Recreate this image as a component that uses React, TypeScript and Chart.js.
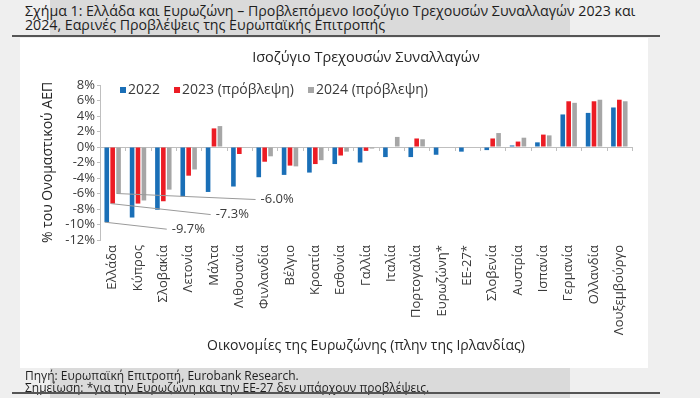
import React, { useEffect, useRef } from "react";
import { Chart, registerables } from "chart.js";

Chart.register(...registerables);

const chartTitle = "Ισοζύγιο Τρεχουσών Συναλλαγών";
const categories = [
  "Ελλάδα", "Κύπρος", "Σλοβακία", "Λετονία", "Μάλτα", "Λιθουανία", "Φινλανδία",
  "Βέλγιο", "Κροατία", "Εσθονία", "Γαλλία", "Ιταλία", "Πορτογαλία", "Ευρωζώνη*",
  "ΕΕ-27*", "Σλοβενία", "Αυστρία", "Ισπανία", "Γερμανία", "Ολλανδία", "Λουξεμβούργο",
];
const seriesLabels = ["2022", "2023 (πρόβλεψη)", "2024 (πρόβλεψη)"];
const values2022 = [-9.7, -9.1, -8.1, -6.4, -5.8, -5.1, -3.9, -3.6, -3.3, -2.2, -2.0, -1.3, -1.3, -1.0, -0.6, -0.4, 0.2, 0.6, 4.2, 4.4, 5.1];
const values2023 = [-7.3, -7.3, -7.0, -3.7, 2.4, -0.9, -1.9, -2.4, -2.2, -1.1, -0.5, 0.0, 1.1, null, null, 1.1, 0.7, 1.6, 5.9, 5.9, 6.1];
const values2024 = [-6.0, -6.9, -5.5, -2.9, 2.7, 0.0, -1.2, -2.5, -1.7, -0.6, -0.2, 1.3, 1.0, null, null, 1.8, 1.2, 1.5, 5.7, 6.1, 5.9];
const yTicks = [8, 6, 4, 2, 0, -2, -4, -6, -8, -10, -12];
const annotatedCategory = 0; // Ελλάδα: value labels for each series

const FONT = "'Open Sans', 'Noto Sans', sans-serif";
const COLORS = ["#1a6fb7", "#ec1c24", "#a6a6a6"];
const TEXT = "#3a3a3a";

const overlayPlugin = {
  id: "overlay",
  afterDatasetsDraw(chart: any) {
    const { ctx, chartArea, scales } = chart;
    const x = scales.x;
    const y = scales.y;
    const y0 = y.getPixelForValue(0);
    ctx.save();
    // chart title centred over the plot area
    ctx.font = `14.5px ${FONT}`;
    ctx.fillStyle = "#262626";
    ctx.textAlign = "center";
    ctx.textBaseline = "middle";
    ctx.fillText(chartTitle, (chartArea.left + chartArea.right) / 2, 18);
    // category boundary ticks on the zero line
    ctx.strokeStyle = "#bfbfbf";
    ctx.lineWidth = 1;
    for (let i = 0; i <= categories.length; i++) {
      const px = Math.round(x.getPixelForValue(i - 0.5)) + 0.5;
      ctx.beginPath();
      ctx.moveTo(px, y0);
      ctx.lineTo(px, y0 + 4);
      ctx.stroke();
    }
    // leader-line annotations for Greece
    const offsets = [
      { dx: 65, dy: 7 },
      { dx: 103, dy: 11 },
      { dx: 142, dy: 6 },
    ];
    ctx.font = `13px ${FONT}`;
    ctx.textAlign = "left";
    const series = [values2022, values2023, values2024];
    series.forEach((vals, di) => {
      const el = chart.getDatasetMeta(di).data[annotatedCategory];
      const v = vals[annotatedCategory];
      if (!el || v == null) return;
      const bx = el.x;
      const by = el.y;
      const lx = bx + offsets[di].dx;
      const ly = by + offsets[di].dy;
      ctx.strokeStyle = "#9a9a9a";
      ctx.beginPath();
      ctx.moveTo(bx - 2, by);
      ctx.lineTo(lx - 5, ly);
      ctx.stroke();
      ctx.fillStyle = TEXT;
      ctx.fillText(`${v.toFixed(1)}%`, lx, ly);
    });
    // legend drawn inside the plot area
    let lx = chartArea.left + 20;
    const ly = chartArea.top + 5;
    ctx.font = `14px ${FONT}`;
    seriesLabels.forEach((label, i) => {
      ctx.fillStyle = COLORS[i];
      ctx.fillRect(lx, ly - 3, 6, 6);
      lx += 8;
      ctx.fillStyle = TEXT;
      ctx.fillText(label, lx, ly);
      lx += ctx.measureText(label).width + 14;
    });
    ctx.restore();
  },
};

function BarChart() {
  const ref = useRef<HTMLCanvasElement>(null);
  useEffect(() => {
    if (!ref.current) return;
    const chart = new Chart(ref.current, {
      type: "bar",
      data: {
        labels: categories,
        datasets: [values2022, values2023, values2024].map((d, i) => ({
          label: seriesLabels[i],
          data: d,
          backgroundColor: COLORS[i],
          borderWidth: 0,
          categoryPercentage: 0.7,
          barPercentage: 0.78,
        })),
      },
      options: {
        animation: false,
        responsive: false,
        maintainAspectRatio: false,
        layout: { padding: { left: 0, right: 16, top: 45, bottom: 0 } },
        plugins: {
          legend: { display: false },
          tooltip: { enabled: false },
          title: { display: false },
        },
        scales: {
          x: {
            grid: { display: false, drawTicks: false },
            border: { display: false },
            ticks: {
              autoSkip: false,
              maxRotation: 90,
              minRotation: 90,
              padding: 5,
              color: TEXT,
              font: { family: FONT, size: 13 },
            },
            title: {
              display: true,
              text: "Οικονομίες της Ευρωζώνης (πλην της Ιρλανδίας)",
              color: "#262626",
              font: { family: FONT, size: 14 },
              padding: { top: 0, bottom: 14 },
            },
            afterFit: (s: any) => {
              s.height = 128;
            },
          },
          y: {
            min: yTicks[yTicks.length - 1],
            max: yTicks[0],
            afterBuildTicks: (s: any) => {
              s.ticks = yTicks.map((v) => ({ value: v }));
            },
            grid: {
              color: (c: any) => (c.tick && c.tick.value === 0 ? "#bfbfbf" : "rgba(0,0,0,0)"),
              tickColor: "#bfbfbf",
              tickLength: 3,
              drawTicks: true,
            },
            border: { display: true, color: "#bfbfbf" },
            ticks: {
              autoSkip: false,
              padding: 2,
              color: TEXT,
              font: { family: FONT, size: 13 },
              callback: (v: any) => `${v}%`,
            },
            title: {
              display: true,
              text: "% του Ονομαστικού ΑΕΠ",
              color: "#262626",
              font: { family: FONT, size: 14 },
              padding: { top: 20, bottom: 0 },
            },
            afterFit: (s: any) => {
              s.width = 80;
            },
          },
        },
      },
      plugins: [overlayPlugin],
    });
    return () => chart.destroy();
  }, []);
  return <canvas ref={ref} width={628} height={328} style={{ position: "absolute", left: 20, top: 40, width: 628, height: 328 }} />;
}

export default function App() {
  const abs = (s: React.CSSProperties): React.CSSProperties => ({ position: "absolute", ...s });
  return (
    <div style={abs({ left: 0, top: 0, width: 700, height: 398, background: "#efefef", overflow: "hidden", fontFamily: FONT })}>
      <div style={abs({ left: 50, top: 0, width: 520, height: 35, background: "#dadada" })} />
      <div style={abs({ left: 25, top: 4, fontSize: 14.2, lineHeight: "13.5px", color: "#1e1e1e", whiteSpace: "nowrap" })}>
        Σχήμα 1: Ελλάδα και Ευρωζώνη – Προβλεπόμενο Ισοζύγιο Τρεχουσών Συναλλαγών 2023 και
        <br />
        2024, Εαρινές Προβλέψεις της Ευρωπαϊκής Επιτροπής
      </div>
      <div style={abs({ left: 12, top: 35, width: 648, height: 1.5, background: "#555" })} />
      <div style={abs({ left: 20, top: 38, width: 628, height: 330, background: "#ffffff" })} />
      <BarChart />
      <div style={abs({ left: 50, top: 368, width: 520, height: 30, background: "#dadada" })} />
      <div style={abs({ left: 25, top: 370, fontSize: 12, lineHeight: "12px", color: "#1e1e1e", whiteSpace: "nowrap" })}>
        Πηγή: Ευρωπαϊκή Επιτροπή, Eurobank Research.
        <br />
        Σημείωση: *για την Ευρωζώνη και την ΕΕ-27 δεν υπάρχουν προβλέψεις.
      </div>
      <div style={abs({ left: 12, top: 392, width: 648, height: 1.5, background: "#555" })} />
    </div>
  );
}
